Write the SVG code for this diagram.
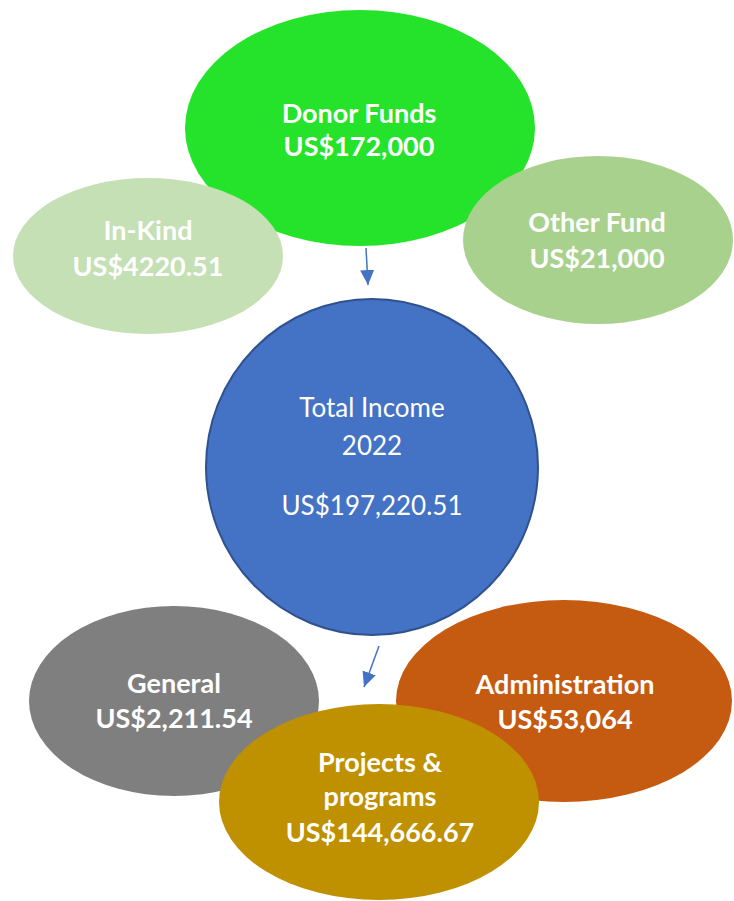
<svg xmlns="http://www.w3.org/2000/svg" width="734" height="901" viewBox="0 0 734 901">
<style>
.b{font-family:Lato,"Open Sans","Liberation Sans",sans-serif;font-weight:bold;font-size:27px;fill:#fff;text-anchor:middle}
.r{font-family:Lato,"Open Sans","Liberation Sans",sans-serif;font-size:26px;fill:#fff;text-anchor:middle}
.conn{stroke:#4472C4;stroke-width:1.5;fill:none}
</style>
<defs>
<marker id="ah" markerWidth="15" markerHeight="14" refX="15" refY="7" orient="auto" markerUnits="userSpaceOnUse" viewBox="0 0 15 14">
<path d="M0,0 L15,7 L0,14 Z" fill="#4472C4"/>
</marker>
</defs>
<rect width="734" height="901" fill="#fff"/>
<g id="donor">
<ellipse cx="360" cy="128" rx="175" ry="118" fill="#24E32A"/>
<text class="b" x="359" y="123">Donor Funds</text>
<text class="b" x="359" y="156">US$172,000</text>
</g>
<g id="inkind">
<ellipse cx="148" cy="256" rx="135" ry="78" fill="#C5E0B4"/>
<text class="b" x="148" y="240">In-Kind</text>
<text class="b" x="148" y="276">US$4220.51</text>
</g>
<g id="other">
<ellipse cx="598" cy="240" rx="135" ry="84" fill="#A9D18E"/>
<text class="b" x="597" y="232">Other Fund</text>
<text class="b" x="597" y="268">US$21,000</text>
</g>
<g id="general">
<ellipse cx="174" cy="701" rx="145" ry="95" fill="#7F7F7F"/>
<text class="b" x="174" y="693">General</text>
<text class="b" x="174" y="728">US$2,211.54</text>
</g>
<g id="admin">
<ellipse cx="564" cy="701" rx="168" ry="101" fill="#C55A11"/>
<text class="b" x="565" y="694">Administration</text>
<text class="b" x="565" y="729">US$53,064</text>
</g>
<g id="total">
<ellipse cx="372" cy="467" rx="166" ry="168" fill="#4472C4" stroke="#2F528F" stroke-width="2"/>
<text class="r" x="372" y="417">Total Income</text>
<text class="r" x="372" y="455">2022</text>
<text class="r" x="372" y="515">US$197,220.51</text>
</g>
<g id="projects">
<ellipse cx="379" cy="802" rx="160" ry="98" fill="#BF9000"/>
<text class="b" x="380" y="772">Projects &amp;</text>
<text class="b" x="380" y="806">programs</text>
<text class="b" x="380" y="842">US$144,666.67</text>
</g>
<g id="connectors">
<line class="conn" x1="366" y1="248" x2="368" y2="285" marker-end="url(#ah)"/>
<line class="conn" x1="379" y1="646" x2="364" y2="687" marker-end="url(#ah)"/>
</g>
</svg>
